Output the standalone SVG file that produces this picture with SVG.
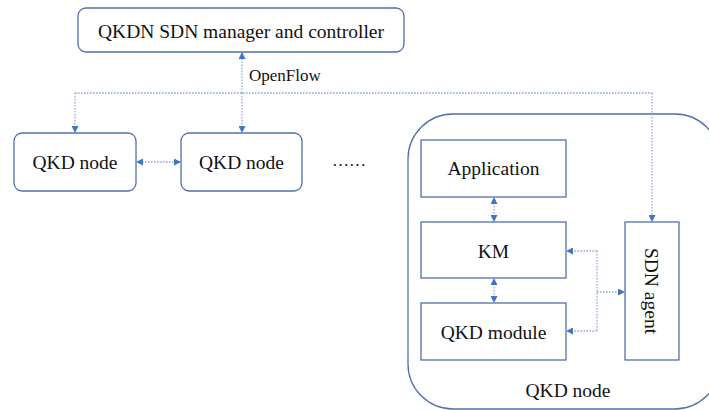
<svg xmlns="http://www.w3.org/2000/svg" width="709" height="410" viewBox="0 0 709 410">
  <style>
    .box { fill: #ffffff; stroke: #4f71a8; stroke-width: 1.3; }
    .lbl { font-family: 'Liberation Serif', 'Times New Roman', 'DejaVu Serif', serif; font-size: 19.5px; fill: #111111; }
    .small { font-size: 17px; }
    .link { fill: none; stroke: #8eaadb; stroke-width: 1.3; stroke-dasharray: 1.6 1.4; }
  </style>
  <defs>
    <marker id="head" viewBox="0 0 8 8" refX="8" refY="4" markerWidth="7" markerHeight="7" markerUnits="userSpaceOnUse" orient="auto-start-reverse">
      <path d="M0,0 L8,4 L0,8 z" fill="#4472c4"/>
    </marker>
  </defs>

  <!-- big container: QKD node internals -->
  <g id="qkd-node-detail">
    <rect class="box" x="408" y="114" width="312" height="295" rx="45" ry="45"/>
    <text class="lbl" font-family="Liberation Serif, serif" x="568" y="397" text-anchor="middle">QKD node</text>
  </g>

  <g id="controller">
    <rect class="box" x="78" y="8" width="326" height="44" rx="8" ry="8"/>
    <text class="lbl" x="241" y="38" text-anchor="middle">QKDN SDN manager and controller</text>
  </g>

  <g id="qkd-node-1">
    <rect class="box" x="14" y="133" width="122" height="58" rx="8" ry="8"/>
    <text class="lbl" x="75" y="169" text-anchor="middle">QKD node</text>
  </g>

  <g id="qkd-node-2">
    <rect class="box" x="181" y="133" width="121" height="58" rx="8" ry="8"/>
    <text class="lbl" x="241.5" y="169" text-anchor="middle">QKD node</text>
  </g>

  <g id="ellipsis">
    <text class="lbl small" x="349" y="166" text-anchor="middle">……</text>
  </g>

  <g id="application">
    <rect class="box" x="421" y="140" width="145" height="57"/>
    <text class="lbl" x="493.5" y="175" text-anchor="middle">Application</text>
  </g>

  <g id="km">
    <rect class="box" x="421" y="222" width="145" height="56"/>
    <text class="lbl" x="493.5" y="258" text-anchor="middle">KM</text>
  </g>

  <g id="qkd-module">
    <rect class="box" x="421" y="303" width="145" height="57"/>
    <text class="lbl" x="493.5" y="339" text-anchor="middle">QKD module</text>
  </g>

  <g id="sdn-agent">
    <rect class="box" x="625" y="222" width="54" height="138"/>
    <text class="lbl" transform="translate(645,291) rotate(90)" text-anchor="middle">SDN agent</text>
  </g>

  <g id="connectors">
    <!-- OpenFlow bus -->
    <path class="link" d="M75,93 H652"/>
    <path class="link" d="M242,93 V52" marker-end="url(#head)"/>
    <path class="link" d="M75,93 V133" marker-end="url(#head)"/>
    <path class="link" d="M242,93 V133" marker-end="url(#head)"/>
    <path class="link" d="M652,93 V222" marker-end="url(#head)"/>
    <text class="lbl small" x="249" y="81">OpenFlow</text>
    <!-- node to node -->
    <path class="link" d="M136,162 H181" marker-start="url(#head)" marker-end="url(#head)"/>
    <!-- inside the node -->
    <path class="link" d="M494,197 V222" marker-start="url(#head)" marker-end="url(#head)"/>
    <path class="link" d="M494,278 V303" marker-start="url(#head)" marker-end="url(#head)"/>
    <path class="link" d="M597,251 H566" marker-end="url(#head)"/>
    <path class="link" d="M597,331 H566" marker-end="url(#head)"/>
    <path class="link" d="M597,251 V331"/>
    <path class="link" d="M597,292 H625" marker-end="url(#head)"/>
  </g>
</svg>
